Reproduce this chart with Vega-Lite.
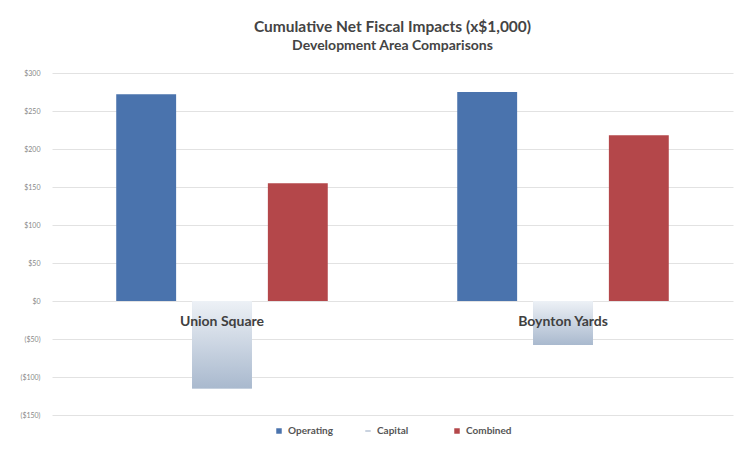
{
  "$schema": "https://vega.github.io/schema/vega-lite/v6.json",
  "width": 681,
  "height": 342,
  "autosize": {"type": "none"},
  "padding": {"left": 52, "top": 73, "right": 9, "bottom": 45},
  "background": "white",
  "config": {"view": {"stroke": null}, "font": "Lato"},
  "title": {
    "text": "Cumulative Net Fiscal Impacts (x$1,000)",
    "subtitle": "Development Area Comparisons",
    "anchor": "middle",
    "fontSize": 15.5,
    "fontWeight": "bold",
    "color": "#444444",
    "subtitleFontSize": 14,
    "subtitleFontWeight": "bold",
    "subtitleColor": "#444444",
    "subtitlePadding": 4,
    "offset": 16
  },
  "datasets": {
    "impacts": [
      {"area": "Union Square", "measure": "Operating", "value": 272},
      {"area": "Union Square", "measure": "Capital", "value": -115},
      {"area": "Union Square", "measure": "Combined", "value": 155},
      {"area": "Boynton Yards", "measure": "Operating", "value": 275},
      {"area": "Boynton Yards", "measure": "Capital", "value": -58},
      {"area": "Boynton Yards", "measure": "Combined", "value": 218}
    ]
  },
  "data": {"name": "impacts"},
  "layer": [
    {
      "mark": {"type": "bar"},
      "encoding": {
        "x": {"field": "area", "type": "nominal", "sort": ["Union Square", "Boynton Yards"], "scale": {"paddingInner": 0.333, "paddingOuter": 0.165}, "axis": null},
        "xOffset": {"field": "measure", "type": "nominal", "sort": ["Operating", "Capital", "Combined"], "scale": {"domain": ["Operating", "Capital", "Combined"], "paddingInner": 0.21, "paddingOuter": 0.105}},
        "y": {"field": "value", "type": "quantitative", "scale": {"domain": [-150, 300], "nice": false},
          "axis": {"title": null, "values": [-150, -100, -50, 0, 50, 100, 150, 200, 250, 300], "tickCount": 10, "labelOverlap": false, "labelExpr": "datum.value < 0 ? '($' + abs(datum.value) + ')' : '$' + datum.value", "labelFontSize": 7, "labelColor": "#888888", "labelPadding": 12, "ticks": false, "domain": false, "gridColor": "#e2e2e2", "gridWidth": 1}},
        "color": {"field": "measure", "type": "nominal", "scale": {"domain": ["Operating", "Capital", "Combined"], "range": ["#4a73ad", "#c3cfde", "#b4474a"]},
          "legend": {"orient": "none", "legendX": 222, "legendY": 353, "direction": "horizontal", "title": null, "symbolType": "square", "symbolSize": 30, "labelFontSize": 10, "labelFontWeight": "bold", "labelColor": "#555555", "columnPadding": 28, "gridAlign": "all",
            "encode": {"symbols": {"update": {"shape": {"signal": "datum.value === 'Capital' ? 'stroke' : 'square'"}, "stroke": {"signal": "datum.value === 'Capital' ? '#b8c5d6' : null"}, "strokeWidth": {"value": 1.5}}}}}}
      }
    },
    {
      "transform": [{"filter": "datum.measure === 'Capital'"}],
      "mark": {"type": "bar", "fill": {"gradient": "linear", "x1": 0, "y1": 0, "x2": 0, "y2": 1, "stops": [{"offset": 0, "color": "#edf1f6"}, {"offset": 1, "color": "#a9b9ce"}]}},
      "encoding": {
        "x": {"field": "area", "type": "nominal", "sort": ["Union Square", "Boynton Yards"]},
        "xOffset": {"field": "measure", "type": "nominal"},
        "y": {"field": "value", "type": "quantitative"}
      }
    },
    {
      "transform": [{"filter": "datum.measure === 'Operating'"}],
      "mark": {"type": "text", "fontWeight": "bold", "fontSize": 14, "color": "#404040", "dy": 21},
      "encoding": {
        "x": {"field": "area", "type": "nominal", "sort": ["Union Square", "Boynton Yards"]},
        "y": {"datum": 0},
        "text": {"field": "area"}
      }
    }
  ]
}
